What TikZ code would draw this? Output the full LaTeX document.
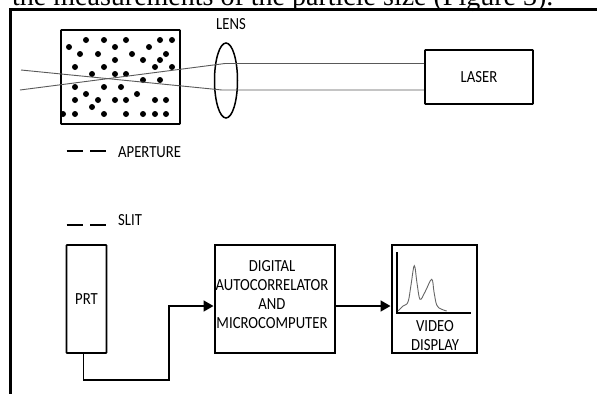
\documentclass[tikz,border=0pt]{standalone}
\usepackage{fontspec}
\setmainfont{Carlito}
\newfontfamily\topfont{Liberation Serif}
\usetikzlibrary{arrows.meta}
\newcommand{\tl}[1]{\scalebox{0.98}[1.13]{#1}}
\tikzset{
  lbl/.style={inner sep=0pt,font=\fontsize{15}{17}\selectfont},
  blk/.style={draw=black,line width=1.7pt,inner sep=0pt,rounded corners=0.6pt},
  heavyblk/.style={blk,line width=2pt,rounded corners=0pt},
  beam/.style={draw=black!65,line width=0.9pt},
  flow/.style={draw=black,line width=1.7pt,-{Triangle[length=10pt,width=11pt]}},
  dot/.style={circle,fill=black,inner sep=0pt,minimum size=6pt},
  axis/.style={draw=black,line width=1.7pt},
  slitbar/.style={line width=2pt}
}
\begin{document}
\begin{tikzpicture}[x=1pt,y=-1pt]
\useasboundingbox (0,0) rectangle (597,394);
\fill[white] (0,0) rectangle (597,394);
\begin{scope}
\clip (0,0) rectangle (597,394);
\node[anchor=base west,inner sep=0pt,font=\topfont\fontsize{28}{30}\selectfont] (title) at (12,5.5) {the measurements of the particle size (Figure 3).};
\draw[line width=3pt] (597,9.7) -- (10,9.7) -- (10,394);
\end{scope}
% sample cell
\draw[blk] (61,30) rectangle (180,124);
\foreach \x/\y in {86/40,104/40,126/40,160/40,172/40,
  69/47,115/47,149/47,
  80/54,98/54,132/54,166/54,
  115/60,143/60,160/60,
  75/67,104/67,155/67,172/67,
  92/74,115/74,126/74,
  143/80,160/80,
  75/87,104/87,121/87,
  86/94,137/94,
  75/100,98/100,115/100,126/100,155/100,166/100,
  92/107,
  63/114,75/114,104/114,126/114,143/114,155/114,166/114}
  \node[dot] at (\x,\y) {};
% lens
\draw[line width=1.5pt] (226,80.5) ellipse [x radius=11.5,y radius=37.5];
\node[lbl] (lens) at (231,24) {\tl{LENS}};
% laser
\node[blk,minimum width=108pt,minimum height=54pt,font=\fontsize{15}{17}\selectfont] (laser) at (479,77) {\tl{LASER}};
\coordinate (lt) at (225,63.5);
\coordinate (lb) at (222,90);
\coordinate (a) at (21,70);
\coordinate (b) at (20,90);
% beams
\draw[beam] (laser.west|-lt) -- (lt) -- (b);
\draw[beam] (laser.west|-lb) -- (lb) -- (a);
% aperture, slit
\draw[slitbar] (66.7,151.3) -- (82.7,151.3) (90,151.3) -- (105.7,151.3);
\node[lbl,anchor=west] (ap) at (118,152.5) {\tl{APERTURE}};
\draw[slitbar] (66.7,224.7) -- (82.7,224.7) (90,224.7) -- (105.7,224.7);
\node[lbl,anchor=west] (sl) at (118,220) {\tl{SLIT}};
% lower row
\node[blk,minimum width=40pt,minimum height=108pt,font=\fontsize{15}{17}\selectfont] (prt) at (86.5,299) {\tl{PRT}};
\node[heavyblk,minimum width=120pt,minimum height=108pt] (dig) at (274.5,299) {};
\node[lbl,align=center,font=\fontsize{15}{19}\selectfont] (digtext) at (272,295) {\tl{DIGITAL}\\\tl{AUTOCORRELATOR}\\\tl{AND}\\\tl{MICROCOMPUTER}};
\node[heavyblk,minimum width=85pt,minimum height=108pt] (vid) at (434,299) {};
\node[lbl,align=center,font=\fontsize{15}{19}\selectfont] (vidtext) at (435,336) {\tl{VIDEO}\\\tl{DISPLAY}};
% screen
\draw[axis] (396.7,252) -- (396.7,312.7) -- (470.7,312.7);
\draw[axis] (413,313.5) -- (446,313.5);
\draw[draw=black!60,line width=0.9pt] plot[smooth,tension=0.6] coordinates {(398,311) (403,306) (408,302) (411,285) (414.3,265.7) (417,283) (420,299.3) (425,292) (431.7,279.3) (434,292) (436.7,305) (441,309) (446.7,311)};
% connectors
\draw[flow] ([xshift=-3pt]prt.south) |- (168.7,380) |- ([yshift=-7pt]dig.west);
\draw[flow] ([yshift=-7pt]dig.east) -- ([yshift=-7pt]vid.west);
\end{tikzpicture}
\end{document}
